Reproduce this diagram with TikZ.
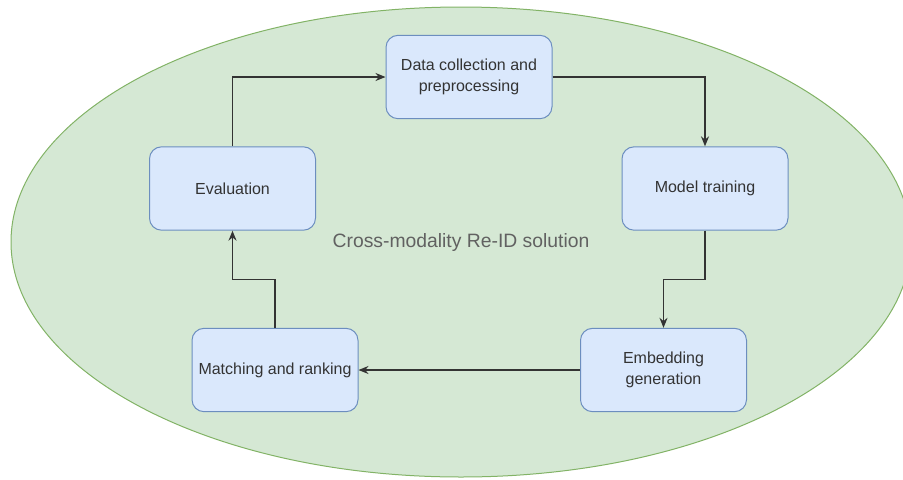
\documentclass[tikz,border=0pt]{standalone}
\usepackage{fontspec}
\setmainfont{Liberation Sans}
\usetikzlibrary{positioning,arrows.meta,calc,shapes.geometric}
\definecolor{zoneFill}{HTML}{D5E8D4}
\definecolor{zoneLine}{HTML}{82B366}
\definecolor{stageFill}{HTML}{DAE8FC}
\definecolor{stageLine}{HTML}{6C8EBF}
\definecolor{inkA}{HTML}{333333}

\begin{document}
\begin{tikzpicture}[
                  x=0.75pt,y=-0.75pt,
                  font=\fontsize{12pt}{15.5pt}\selectfont,
                  stage/.style={draw=stageLine,fill=stageFill,line width=0.75pt,rounded corners=9pt,align=center,inner sep=2pt,minimum width=124.5pt,minimum height=62.5pt,text=inkA},
                  zone/.style={ellipse,draw=zoneLine,fill=zoneFill,line width=0.75pt,minimum width=675pt,minimum height=352.5pt,text=black!62,font=\fontsize{14.5pt}{17pt}\selectfont},
                  arr/.style={-{Stealth[length=7.5pt,width=6pt]},line width=0.9pt,draw=inkA}
                ]
                \clip (0,0) rectangle (903,479);
                \node[zone] (zone) at (461,242) {Cross-modality Re-ID solution};
                
                \node[stage] (data) at (469,77) {Data collection and\\preprocessing};
                \node[stage] (model) at (705,188.5) {Model training};
                \node[stage] (embed) at (663.5,370) {Embedding\\generation};
                \node[stage] (match) at (275,370) {Matching and ranking};
                \node[stage] (eval) at (232.5,188.5) {Evaluation};
                
                \draw[arr] (eval.north) |- (data.west);
                \draw[arr] (data.east) -| (model.north);
                \draw[arr] (model.south) |- ($(model.south)!0.5!(embed.north)$) -| (embed.north);
                \draw[arr] (embed.west) -- (match.east);
                \draw[arr] (match.north) |- ($(match.north)!0.5!(eval.south)$) -| (eval.south);
                \end{tikzpicture}
\end{document}
